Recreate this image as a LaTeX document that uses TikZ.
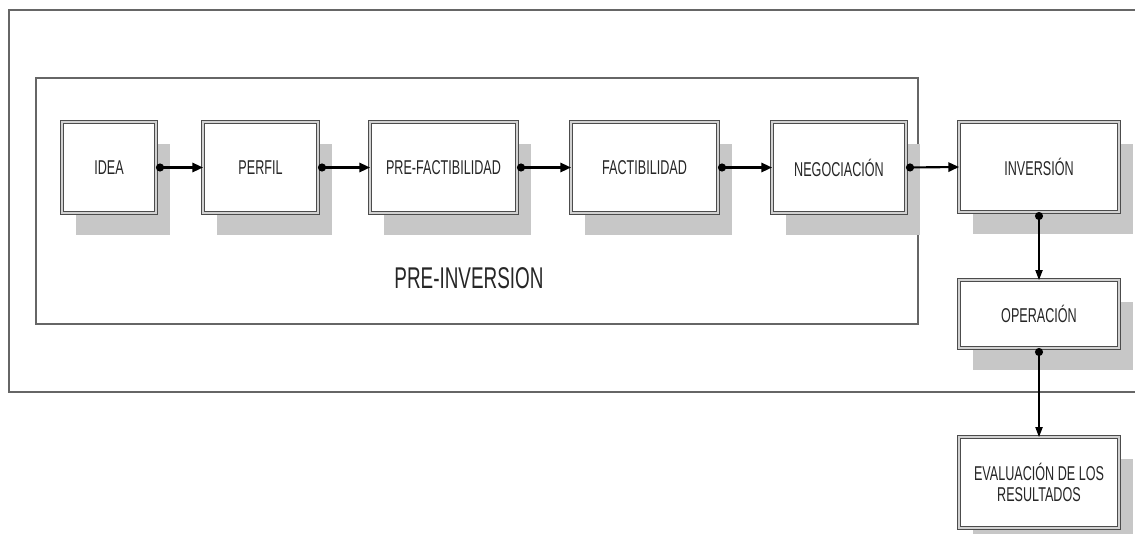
\documentclass[tikz,border=0pt]{standalone}
\usepackage{fontspec}
\setmainfont{Liberation Sans}[FakeStretch=0.63]
\usetikzlibrary{arrows.meta,shadows}
\begin{document}
\begin{tikzpicture}[x=0.75pt,y=-0.75pt,
  frame/.style={draw=black!60,line width=1.6pt},
  stagebox/.style={rectangle,draw=black!70,double=black!18,double distance=1.3pt,line width=0.85pt,
    fill=white,outer sep=0pt,inner sep=2pt,align=center,
    font=\fontsize{15}{17}\selectfont,text=black!85,
    drop shadow={shadow xshift=10.5pt,shadow yshift=-16.5pt,fill=black!22,opacity=1}},
  link/.style={line width=1.6pt,black,{Circle[length=6pt]}-{Triangle[length=8pt,width=7pt]}},
  vlink/.style={line width=0.9pt,black,{Circle[length=6pt]}-{Triangle[length=7.5pt,width=5.5pt]}}
]
\useasboundingbox (0,0) rectangle (1135,533);
\draw[frame] (1145,10) -- (9,10) -- (9,392) -- (1145,392);
\draw[frame] (36,78) rectangle (918,324);

\node[stagebox,minimum width=94*0.75pt,minimum height=91*0.75pt] (idea) at (109,167.5) {IDEA};
\node[stagebox,minimum width=115*0.75pt,minimum height=91*0.75pt] (perfil) at (260.5,167.5) {PERFIL};
\node[stagebox,minimum width=147*0.75pt,minimum height=91*0.75pt] (pref) at (443.5,167.5) {PRE-FACTIBILIDAD};
\node[stagebox,minimum width=147*0.75pt,minimum height=91*0.75pt] (fact) at (644.5,167.5) {FACTIBILIDAD};
\node[stagebox,minimum width=134*0.75pt,minimum height=91*0.75pt] (neg) at (839,167.5) {NEGOCIACIÓN};
\node[stagebox,minimum width=160*0.75pt,minimum height=90*0.75pt] (inv) at (1039,167) {INVERSIÓN};
\node[stagebox,minimum width=160*0.75pt,minimum height=68*0.75pt] (op) at (1039,314) {OPERACIÓN};
\node[stagebox,minimum width=160*0.75pt,minimum height=91*0.75pt] (ev) at (1039,482.5) {EVALUACIÓN DE LOS\\[-1pt]RESULTADOS};

\node[font=\fontsize{22.5}{24}\selectfont,text=black!85] (pre) at (469,278) {PRE-INVERSION};

\draw[link] (idea.east) -- (perfil.west);
\draw[link] (perfil.east) -- (pref.west);
\draw[link] (pref.east) -- (fact.west);
\draw[link] (fact.east) -- (neg.west);
\draw[link] (neg.east) -- (inv.west);
\draw[vlink] (inv.south) -- (op.north);
\draw[vlink] (op.south) -- (ev.north);
\end{tikzpicture}
\end{document}
